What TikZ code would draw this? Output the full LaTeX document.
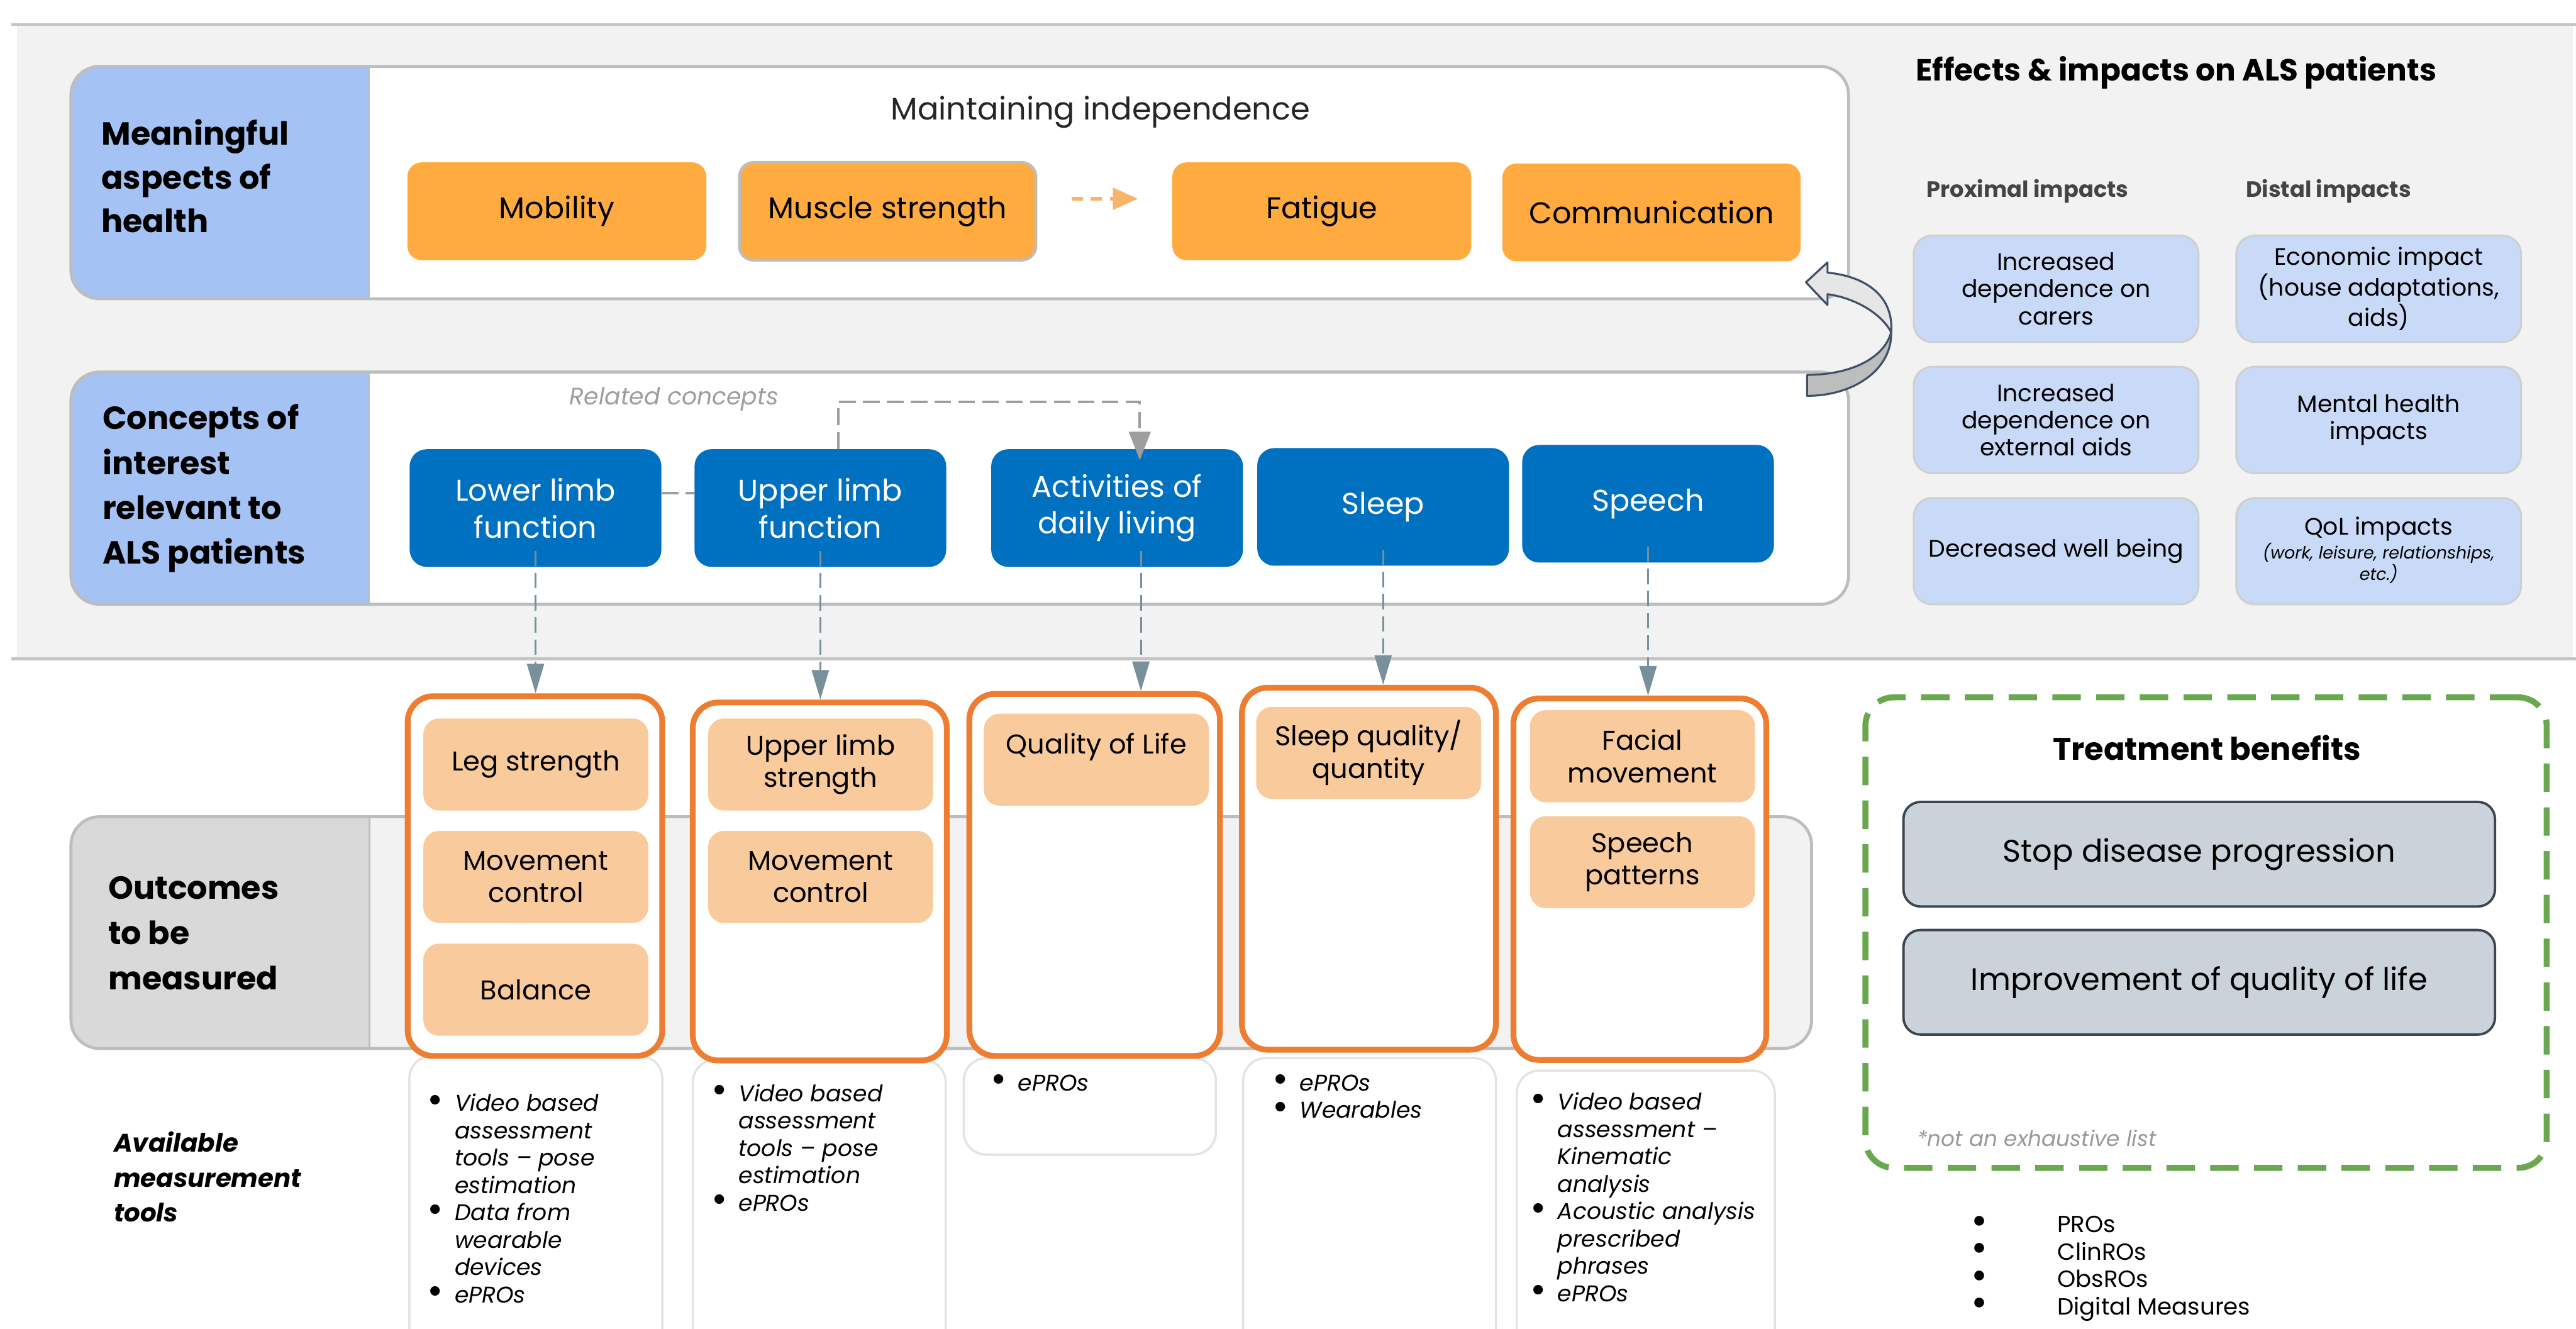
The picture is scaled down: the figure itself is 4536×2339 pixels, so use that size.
\documentclass[tikz,border=0pt]{standalone}
\usepackage{fontspec}
\usepackage{graphicx}
\setmainfont{Poppins}
\usetikzlibrary{arrows.meta,calc}

\definecolor{panel}{HTML}{F2F2F2}
\definecolor{panelline}{HTML}{C4C4C4}
\definecolor{bandblue}{HTML}{A4C2F4}
\definecolor{bandline}{HTML}{BDBDBD}
\definecolor{ora}{HTML}{FFAB40}
\definecolor{oradash}{HTML}{F9B46C}
\definecolor{cblue}{HTML}{0070C0}
\definecolor{peach}{HTML}{F9CB9C}
\definecolor{colline}{HTML}{ED7D31}
\definecolor{toolline}{HTML}{E3E3E3}
\definecolor{impfill}{HTML}{C9DAF8}
\definecolor{impline}{HTML}{CFCFCF}
\definecolor{outleft}{HTML}{D9D9D9}
\definecolor{greenB}{HTML}{6AA84F}
\definecolor{tbfill}{HTML}{CBD3DA}
\definecolor{tbline}{HTML}{3B4650}
\definecolor{downarr}{HTML}{78909C}
\definecolor{relgray}{HTML}{9E9E9E}
\definecolor{arrline}{HTML}{3F5068}
\definecolor{arrlight}{HTML}{E6E6E6}
\definecolor{arrdark}{HTML}{BDBDBD}
\definecolor{subgray}{HTML}{444444}

\newcommand{\fHead}{\fontsize{16}{21.9}\selectfont\bfseries}
\newcommand{\fBox}{\fontsize{15}{18.5}\selectfont}
\newcommand{\fPeach}{\fontsize{13.6}{16.2}\selectfont}
\newcommand{\fList}{\fontsize{11.4}{13.7}\selectfont\itshape}
\newcommand{\fImp}{\fontsize{11.9}{13.6}\selectfont}
\newcommand{\bigdot}{\smash{\raisebox{-0.12ex}{\scalebox{1.7}{\upshape\textbullet}}}}
\newcommand{\bul}{\makebox[0.48cm][l]{\bigdot}}

\tikzset{
  every node/.style={inner sep=0pt},
  obox/.style={fill=ora, rounded corners=0.25cm, minimum width=5.26cm, minimum height=1.72cm, font=\fBox, align=center},
  cbox/.style={fill=cblue, rounded corners=0.3cm, minimum width=4.43cm, minimum height=2.07cm, font=\fBox, text=white, align=center},
  colbox/.style={draw=colline, line width=2.9pt, fill=white, rounded corners=0.45cm},
  pbox/.style={fill=peach, rounded corners=0.28cm, minimum width=3.96cm, minimum height=1.62cm, font=\fPeach, align=center},
  toolbox/.style={draw=toolline, line width=1.1pt, fill=white, rounded corners=0.4cm},
  impbox/.style={fill=impfill, draw=impline, line width=1pt, rounded corners=0.32cm, minimum width=5.01cm, minimum height=1.87cm, font=\fImp, align=center},
  benbox/.style={fill=tbfill, draw=tbline, line width=1.2pt, rounded corners=0.3cm, minimum width=10.41cm, minimum height=1.84cm, font=\fontsize{15.6}{18}\selectfont},
  bandframe/.style={draw=bandline, line width=1.5pt, rounded corners=0.5cm},
  divider/.style={draw=bandline, line width=0.9pt},
  downlink/.style={draw=downarr, line width=0.9pt, dash pattern=on 0.27cm off 0.12cm, -{Triangle[length=0.52cm,width=0.3cm]}},
  rellink/.style={draw=relgray, line width=1.2pt, dash pattern=on 0.29cm off 0.13cm},
  lst/.style={font=\fList, anchor=north west, inner sep=0pt},
  heading/.style={font=\fHead, align=left, anchor=west},
}

\begin{document}
\begin{tikzpicture}[x=0.01cm, y=-0.01cm]
\useasboundingbox (0,0) rectangle (4536,2339);
\clip (0,0) rectangle (4536,2339);

% upper grey panel
\fill[panel] (30,42) rectangle (4530,1160);
\draw[panelline, line width=1.4pt] (20,43) -- (4536,43);
\draw[panelline, line width=1.6pt] (20,1160) -- (4536,1160);

% band: meaningful aspects of health
\begin{scope}
  \clip[rounded corners=0.5cm] (125,117) rectangle (3255,526);
  \fill[white] (125,117) rectangle (3255,526);
  \fill[bandblue] (125,117) rectangle (650,526);
\end{scope}
\draw[bandframe] (125,117) rectangle (3255,526);
\draw[divider] (650,117) -- (650,526);

% band: concepts of interest
\begin{scope}
  \clip[rounded corners=0.5cm] (125,655) rectangle (3255,1064);
  \fill[white] (125,655) rectangle (3255,1064);
  \fill[bandblue] (125,655) rectangle (650,1064);
\end{scope}
\draw[bandframe] (125,655) rectangle (3255,1064);
\draw[divider] (650,655) -- (650,1064);

% band: outcomes to be measured
\begin{scope}
  \clip[rounded corners=0.5cm] (125,1438) rectangle (3190,1846);
  \fill[panel] (125,1438) rectangle (3190,1846);
  \fill[outleft] (125,1438) rectangle (651,1846);
\end{scope}
\draw[bandframe] (125,1438) rectangle (3190,1846);
\draw[divider] (651,1438) -- (651,1846);

% row labels
\node[heading] (lab1) at (178,310) {Meaningful\\aspects of\\health};
\node[heading, font=\fontsize{16}{22.5}\selectfont\bfseries] (lab2) at (180,860) {Concepts of\\interest\\relevant to\\ALS patients};
\node[heading, font=\fontsize{16}{22.7}\selectfont\bfseries] (lab3) at (190,1643) {Outcomes\\to be\\measured};
\node[heading, font=\fontsize{12.7}{17.6}\selectfont\bfseries\itshape] (lab4) at (200,2072) {Available\\measurement\\tools};

% meaningful aspects
\node[font=\fontsize{15.6}{18}\selectfont, text=black!85] (mi) at (1938,197) {Maintaining independence};
\node[obox] (mob) at (980.5,372) {Mobility};
\node[obox, draw=bandline, line width=1.4pt, minimum width=5.22cm] (mus) at (1563,372) {Muscle strength};
\node[obox] (fat) at (2327.5,372) {Fatigue};
\node[obox, minimum width=5.25cm] (com) at (2908,374) {Communication};
\draw[oradash, line width=1.7pt, dash pattern=on 0.2cm off 0.14cm,
      -{Triangle[length=0.44cm,width=0.38cm]}, shorten <=0.6cm, shorten >=0.6cm]
  ([yshift=0.22cm]mus.east) -- ([yshift=0.22cm]fat.west);

% concepts of interest
\node[font=\fontsize{11.9}{14}\selectfont\itshape, text=relgray] (rc) at (1187,703) {Related concepts};
\node[cbox] (low) at (943,894.5) {Lower limb\\function};
\node[cbox] (upp) at (1444.5,894.5) {Upper limb\\function};
\node[cbox] (adl) at (1967,894.5) {Activities of\\daily living};
\node[cbox] (slp) at (2435.5,892.5) {Sleep};
\node[cbox] (spc) at (2902,887) {Speech};

\coordinate (rx) at (1476,708);
\coordinate (ry) at (2007,708);
\draw[rellink] ([yshift=0.26cm]low.east) -- ([yshift=0.26cm]upp.west);
\draw[rellink, -{Triangle[length=0.5cm,width=0.38cm,fill=relgray]}, shorten >=-0.2cm]
  (upp.north -| rx) -- (rx) -- (ry) -- (adl.north -| ry);

% curved feedback arrow between the two bands
\filldraw[fill=arrlight, draw=arrline, line width=1pt, line join=round]
  (3180,497) -- (3218,462) -- (3218,480)
  .. controls (3290,487) and (3335,525) .. (3330,585)
  .. controls (3315,555) and (3270,525) .. (3218,518)
  -- (3218,537) -- cycle;
\filldraw[fill=arrdark, draw=arrline, line width=1pt, line join=round]
  (3330,585) .. controls (3332,650) and (3265,697) .. (3182,697)
  -- (3182,660) .. controls (3260,660) and (3318,630) .. (3330,585) -- cycle;

% measurement tool boxes
\node[toolbox, minimum width=4.45cm, minimum height=5.61cm] (t1) at (943.5,2139.5) {};
\node[toolbox, minimum width=4.45cm, minimum height=5.54cm] (t2) at (1442.5,2143) {};
\node[toolbox, minimum width=4.44cm, minimum height=1.70cm] (t3) at (1919,1948) {};
\node[toolbox, minimum width=4.45cm, minimum height=5.57cm] (t4) at (2411.5,2141.5) {};
\node[toolbox, minimum width=4.54cm, minimum height=5.35cm] (t5) at (2898,2152.5) {};

% outcome columns
\node[colbox, minimum width=4.48cm, minimum height=6.33cm] (o1) at (942,1542.5) {};
\node[colbox, minimum width=4.47cm, minimum height=6.30cm] (o2) at (1443.5,1552) {};
\node[colbox, minimum width=4.41cm, minimum height=6.37cm] (o3) at (1927.5,1540.5) {};
\node[colbox, minimum width=4.47cm, minimum height=6.37cm] (o4) at (2410.5,1529.5) {};
\node[colbox, minimum width=4.45cm, minimum height=6.36cm] (o5) at (2887.5,1548) {};

\node[pbox] (p1a) at (943.5,1346) {Leg strength};
\node[pbox] (p1b) at (943.5,1544) {Movement\\control};
\node[pbox] (p1c) at (943.5,1742.5) {Balance};
\node[pbox] (p2a) at (1445,1346) {Upper limb\\strength};
\node[pbox] (p2b) at (1445,1544) {Movement\\control};
\node[pbox] (p3a) at (1930.5,1337.5) {Quality of Life\\\mbox{}};
\node[pbox] (p4a) at (2410,1325.5) {Sleep quality/\\quantity};
\node[pbox] (p5a) at (2892,1331.5) {Facial\\movement};
\node[pbox] (p5b) at (2892,1518) {Speech\\patterns};

% concept -> outcome links (vertical)
\coordinate (ax) at (2009,0);
\draw[downlink] ([yshift=0.29cm]low.south) -- (o1.north -| low.south);
\draw[downlink] ([yshift=0.29cm]upp.south) -- (o2.north -| upp.south);
\draw[downlink] ($(adl.south -| ax)+(0,-29)$) -- (o3.north -| ax);
\draw[downlink] ([yshift=0.29cm]slp.south) -- (o4.north -| slp.south);
\draw[downlink] ([yshift=0.29cm]spc.south) -- (o5.north -| spc.south);

% measurement tool lists
\node[lst] (l1) at (752,1922) {\begin{tabular}{@{}l@{}l@{}}
\bul & Video based\\ & assessment\\ & tools – pose\\ & estimation\\
\bul & Data from\\ & wearable\\ & devices\\
\bul & ePROs\end{tabular}};
\node[lst] (l2) at (1252,1905) {\begin{tabular}{@{}l@{}l@{}}
\bul & Video based\\ & assessment\\ & tools – pose\\ & estimation\\
\bul & ePROs\end{tabular}};
\node[lst] (l3) at (1744,1886) {\begin{tabular}{@{}l@{}l@{}}
\bul & ePROs\end{tabular}};
\node[lst] (l4) at (2240,1886) {\begin{tabular}{@{}l@{}l@{}}
\bul & ePROs\\ \bul & Wearables\end{tabular}};
\node[lst] (l5) at (2694,1920) {\begin{tabular}{@{}l@{}l@{}}
\bul & Video based\\ & assessment –\\ & Kinematic\\ & analysis\\
\bul & Acoustic analysis\\ & prescribed\\ & phrases\\
\bul & ePROs\end{tabular}};

% effects and impacts
\node[font=\fontsize{15.3}{18}\selectfont\bfseries, anchor=west] (eff) at (3373,128) {Effects \& impacts on ALS patients};
\node[font=\fontsize{11.1}{13}\selectfont\bfseries, text=subgray, anchor=west] (prx) at (3392,337) {Proximal impacts};
\node[font=\fontsize{11.1}{13}\selectfont\bfseries, text=subgray, anchor=west] (dst) at (3954,337) {Distal impacts};
\node[impbox] (i1) at (3620.5,508.5) {Increased\\dependence on\\carers};
\node[impbox] (i2) at (3620.5,739.5) {Increased\\dependence on\\external aids};
\node[impbox] (i3) at (3620.5,970.5) {Decreased well being};
\node[impbox] (i4) at (4188.5,508.5) {Economic impact\\(house adaptations,\\aids)};
\node[impbox] (i5) at (4188.5,739.5) {Mental health\\impacts};
\node[impbox] (i6) at (4188.5,970.5) {QoL impacts\\{\fontsize{8.5}{9.4}\selectfont\itshape\begin{tabular}{@{}c@{}}(work, leisure, relationships,\\etc.)\end{tabular}}};

% treatment benefits
\node[draw=greenB, line width=3pt, dash pattern=on 0.5cm off 0.27cm, rounded corners=0.5cm,
      minimum width=11.99cm, minimum height=8.28cm] (tben) at (3884.5,1642) {};
\node[font=\fontsize{15.6}{18}\selectfont\bfseries] (tbh) at (3886,1317) {Treatment benefits};
\node[benbox] (b1) at (3872.5,1504) {Stop disease progression};
\node[benbox] (b2) at (3872.5,1729.5) {Improvement of quality of life};
\node[font=\fontsize{10.8}{13}\selectfont\itshape, text=black!40, anchor=west] (nel) at (3375,2004) {*not an exhaustive list};
\node[font=\fontsize{11.7}{13.7}\selectfont, anchor=north west] (bl) at (3470,2136) {\begin{tabular}{@{}l@{}l@{}}
\makebox[1.52cm][l]{\bigdot} & PROs\\ \bigdot & ClinROs\\ \bigdot & ObsROs\\ \bigdot & Digital Measures\end{tabular}};

\end{tikzpicture}
\end{document}
